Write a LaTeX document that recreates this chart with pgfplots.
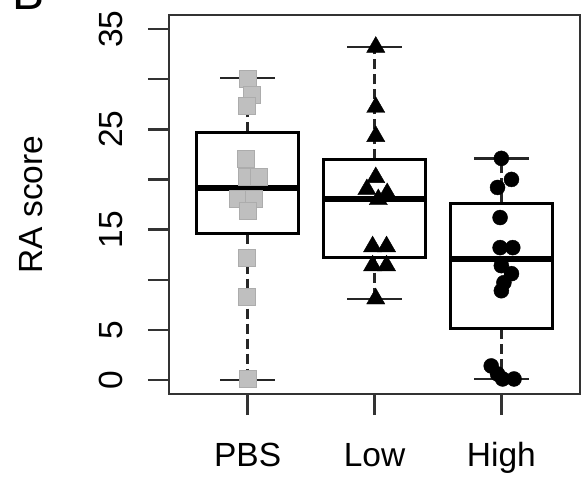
\documentclass[border=0pt]{standalone}
\usepackage{pgfplots}
\pgfplotsset{compat=1.18}
\usepgfplotslibrary{statistics}
\usepackage{fontspec}
\setmainfont{Liberation Sans}
\begin{document}
\begin{tikzpicture}[x=1pt,y=1pt]
\useasboundingbox (0,0) rectangle (583,477);
\node[anchor=base west, font=\fontsize{48}{56}\selectfont] at (9,467) {B};
\begin{axis}[
  at={(169pt,83pt)}, anchor=south west,
  scale only axis, width=411pt, height=379pt,
  xmin=0.38, xmax=3.62, ymin=-1.4, ymax=36.4,
  xtick={1,2,3}, xticklabels={PBS,Low,High},
  ytick={0,5,10,15,20,25,30,35}, yticklabels={0,5,,15,,25,,35},
  xtick pos=bottom, ytick pos=left, tick align=outside,
  major tick length=21pt,
  tick style={line width=2.4pt, black!80},
  axis line style={line width=2.6pt, black!80},
  font=\fontsize{33.5}{40}\selectfont,
  /pgf/number format/assume math mode=true,
  yticklabel style={rotate=90, anchor=base},
  yticklabel shift=25pt,
  xticklabel style={anchor=base},
  xticklabel shift=51pt,
  ylabel={RA score},
  ylabel style={at={(axis description cs:-0.308,0.5)}, anchor=base, rotate=0},
  boxplot/draw direction=y,
  boxplot/every box/.style={draw=black, line width=3pt},
  boxplot/every median/.style={draw=black, line width=6pt},
  boxplot/every whisker/.style={draw=black!85, line width=2.4pt, dash pattern=on 10pt off 5pt},
]
% boxes
\addplot[black, boxplot prepared={draw position=1, lower whisker=0, lower quartile=14.6, median=19.1, upper quartile=24.7, upper whisker=30.1, box extend=0.8, whisker extend=0}] coordinates {};
\addplot[black, boxplot prepared={draw position=2, lower whisker=8.1, lower quartile=12.2, median=18.0, upper quartile=22.0, upper whisker=33.2, box extend=0.8, whisker extend=0}] coordinates {};
\addplot[black, boxplot prepared={draw position=3, lower whisker=0.1, lower quartile=5.1, median=12.1, upper quartile=17.6, upper whisker=22.1, box extend=0.8, whisker extend=0}] coordinates {};
% staples
\addplot[black!85, line width=2.4pt, forget plot] coordinates {(0.785,30.1) (1.215,30.1)};
\addplot[black!85, line width=2.4pt, forget plot] coordinates {(0.785,0) (1.215,0)};
\addplot[black!85, line width=2.4pt, forget plot] coordinates {(1.785,33.2) (2.215,33.2)};
\addplot[black!85, line width=2.4pt, forget plot] coordinates {(1.785,8.1) (2.215,8.1)};
\addplot[black!85, line width=2.4pt, forget plot] coordinates {(2.785,22.1) (3.215,22.1)};
\addplot[black!85, line width=2.4pt, forget plot] coordinates {(2.785,0.1) (3.215,0.1)};
% points
\addplot[only marks, mark=square*, mark size=8.5pt, mark options={fill=gray!50, draw=gray!65, line width=0.6pt}] coordinates {
(1.0,30.0) (1.03,28.4) (0.99,27.3) (0.985,22.1) (0.995,20.3) (1.09,20.3)
(0.92,18.1) (1.045,18.1) (1.0,16.9) (0.99,12.2) (0.99,8.3) (1.0,0.1)};
\addplot[only marks, mark=triangle*, mark size=10.5pt, mark options={fill=black, draw=black}] coordinates {
(2.01,33.2) (2.01,27.2) (2.01,24.3) (2.01,20.2) (1.94,19.0) (2.10,18.6) (2.03,18.0)
(1.985,13.3) (2.095,13.3) (1.985,11.4) (2.095,11.4) (2.01,8.1)};
\addplot[only marks, mark=*, mark size=7.5pt, mark options={fill=black, draw=black}] coordinates {
(3.0,22.1) (3.08,20.0) (2.97,19.2) (2.99,16.2) (2.99,13.2) (3.09,13.2)
(3.0,11.4) (3.08,10.6) (3.02,9.7) (3.0,8.9) (2.92,1.4) (2.97,0.6) (3.01,0.1) (3.10,0.1)};
\end{axis}
\end{tikzpicture}
\end{document}
